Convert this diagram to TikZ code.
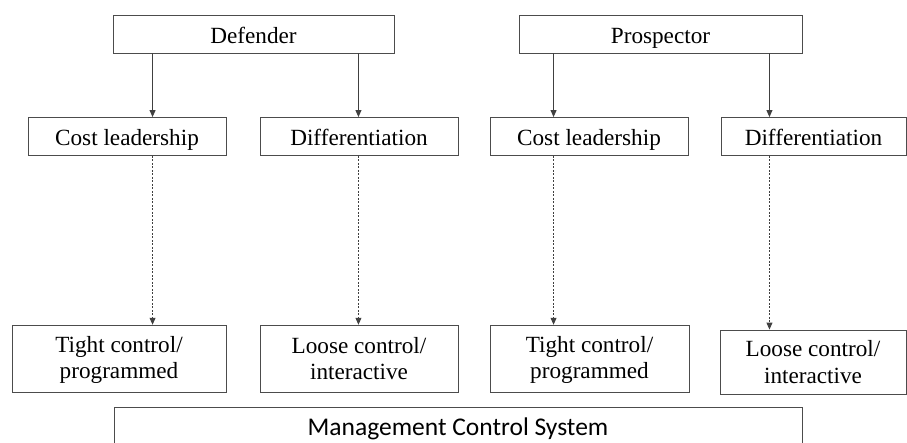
\documentclass[tikz,border=0pt]{standalone}
\usepackage{fontspec}
\setmainfont{Liberation Serif}
\newfontfamily\calfont{Carlito}
\usetikzlibrary{arrows.meta,calc}
\newcommand{\lstrut}{\rule[-3pt]{0pt}{22pt}}
\tikzset{
  box/.style={draw=gray!60!black, line width=0.9pt, inner sep=0pt, align=center,
    font=\fontsize{23.2}{26.3}\selectfont},
  onebox/.style={box, text height=20pt, text depth=2pt},
  arr/.style={draw=black!75, line width=0.9pt, -{Triangle[length=7pt,width=6pt]}},
  darr/.style={arr, dash pattern=on 2pt off 1.5pt},
}
\begin{document}
\begin{tikzpicture}[x=1pt,y=-1pt]
\clip (0,0) rectangle (907,442);
\fill[white] (0,0) rectangle (907,442);
% top level
\node[onebox, minimum width=281pt, minimum height=38pt] (def) at (253.5,34) {Defender};
\node[onebox, minimum width=283pt, minimum height=38pt] (pro) at (660.5,34) {Prospector};
% middle level
\node[onebox, minimum width=198pt, minimum height=38pt] (cl1) at (127,136.5) {Cost leadership};
\node[onebox, minimum width=198pt, minimum height=38pt] (d1) at (359,136.5) {Differentiation};
\node[onebox, minimum width=198pt, minimum height=38pt] (cl2) at (589,136.5) {Cost leadership};
\node[onebox, minimum width=185pt, minimum height=38pt] (d2) at (813.5,136.5) {Differentiation};
% bottom level
\node[box, minimum width=214pt, minimum height=67pt] (t1) at (119,358.7) {\lstrut Tight control/\\\lstrut programmed};
\node[box, minimum width=198pt, minimum height=67pt] (l1) at (359,358.7) {\lstrut Loose control/\\\lstrut interactive};
\node[box, minimum width=199pt, minimum height=67pt] (t2) at (589.5,358.7) {\lstrut Tight control/\\\lstrut programmed};
\node[box, minimum width=186pt, minimum height=64pt] (l2) at (813,362) {\lstrut Loose control/\\\lstrut interactive};
% management control system
\node[box, minimum width=688pt, minimum height=60pt, anchor=north] (mcs) at (458,407) {};
\node[font=\calfont\fontsize{25.5}{28}\selectfont, inner sep=0pt, anchor=base] (mcst) at (458,435) {Management Control System};
% solid arrows
\coordinate (a1) at ([xshift=40pt]def.south west);
\coordinate (a2) at ([xshift=-36pt]def.south east);
\coordinate (a3) at ([xshift=35pt]pro.south west);
\coordinate (a4) at ([xshift=-33pt]pro.south east);
\draw[arr] (a1) -- (a1 |- cl1.north);
\draw[arr] (a2) -- (a2 |- d1.north);
\draw[arr] (a3) -- (a3 |- cl2.north);
\draw[arr] (a4) -- (a4 |- d2.north);
% dotted arrows
\draw[darr] (a1 |- cl1.south) -- (a1 |- t1.north);
\draw[darr] (a2 |- d1.south) -- (a2 |- l1.north);
\draw[darr] (a3 |- cl2.south) -- (a3 |- t2.north);
\draw[darr] (a4 |- d2.south) -- (a4 |- l2.north);
\end{tikzpicture}
\end{document}
